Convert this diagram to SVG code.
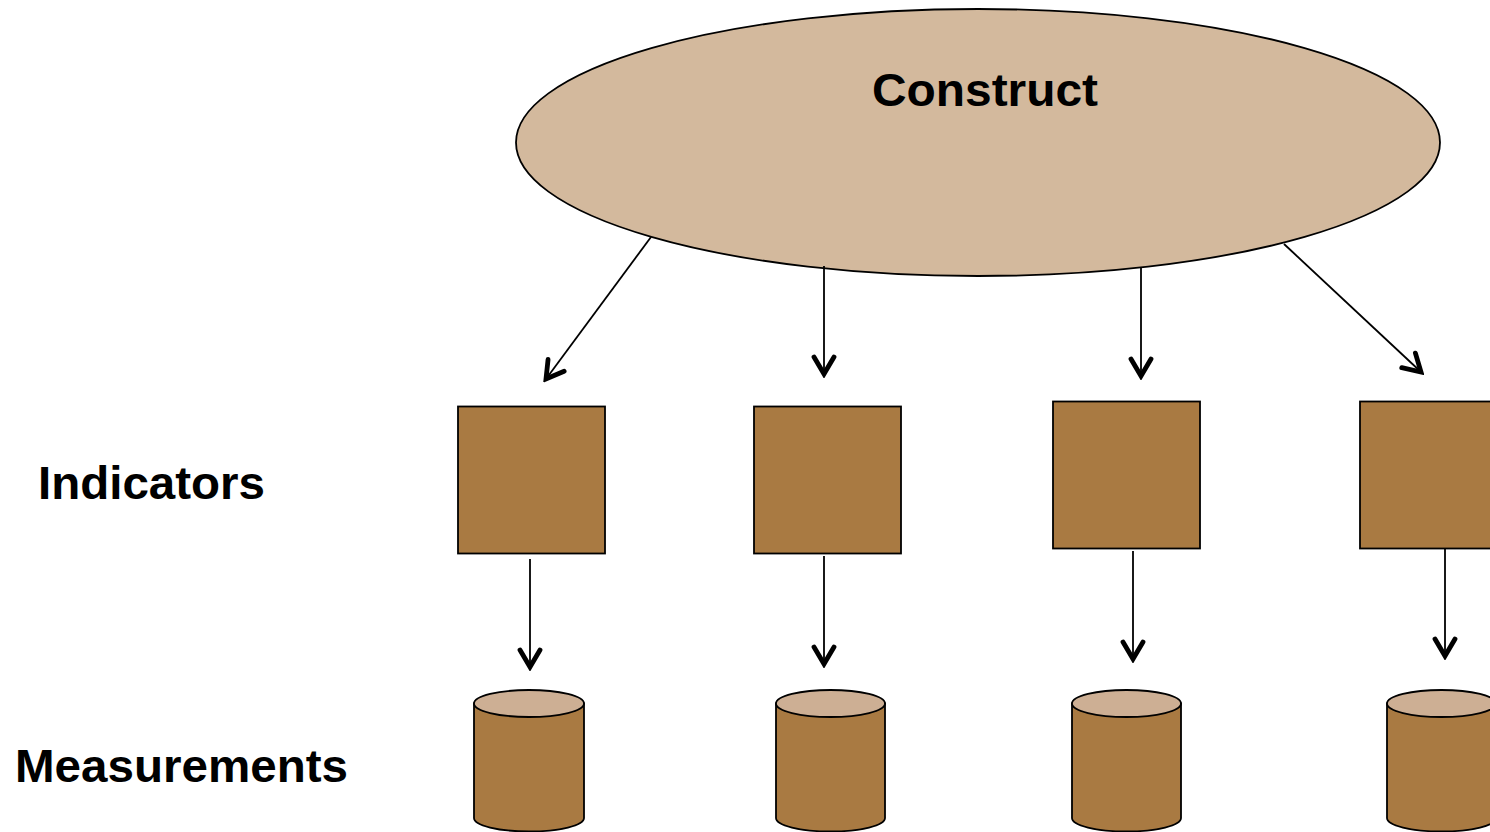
<svg xmlns="http://www.w3.org/2000/svg" width="1490" height="832" viewBox="0 0 1490 832">
<style>
.lbl{font-family:"Liberation Sans",Arial,sans-serif;font-weight:bold;font-size:47px;fill:#000}
.box{fill:#A97A42;stroke:#000;stroke-width:1.8}
.cyl{fill:#A97A42;stroke:#000;stroke-width:1.8}
.cyltop{fill:#CDAF94;stroke:#000;stroke-width:1.8}
.conn{stroke:#000;stroke-width:1.8;fill:none;marker-end:url(#v)}
</style>
<defs>
<marker id="v" markerUnits="userSpaceOnUse" viewBox="-22 -15 26 30" refX="0" refY="0" markerWidth="26" markerHeight="30" orient="auto">
<path d="M-17,-10 L0,0 L-17,10" fill="none" stroke="#000" stroke-width="4.8" stroke-linecap="round" stroke-linejoin="miter"/>
</marker>
</defs>
<rect width="1490" height="832" fill="#fff"/>
<g id="construct">
<ellipse cx="978" cy="142.5" rx="462" ry="133.5" fill="#D3B99D" stroke="#000" stroke-width="1.8"/>
<text class="lbl" x="985" y="106" text-anchor="middle" textLength="226" lengthAdjust="spacingAndGlyphs">Construct</text>
</g>
<g id="indicators-label"><text class="lbl" x="38" y="499" textLength="227" lengthAdjust="spacingAndGlyphs">Indicators</text></g>
<g id="measurements-label"><text class="lbl" x="15" y="782" textLength="333" lengthAdjust="spacingAndGlyphs">Measurements</text></g>
<g id="ind1"><rect class="box" x="458" y="406.5" width="147" height="147"/></g>
<g id="ind2"><rect class="box" x="754" y="406.5" width="147" height="147"/></g>
<g id="ind3"><rect class="box" x="1053" y="401.5" width="147" height="147"/></g>
<g id="ind4"><rect class="box" x="1360" y="401.5" width="147" height="147"/></g>
<g id="meas1">
<path class="cyl" d="M474,703.5 L474,818 A55,13.5 0 0 0 584,818 L584,703.5 Z"/>
<ellipse class="cyltop" cx="529" cy="703.5" rx="55" ry="13.5"/>
</g>
<g id="meas2">
<path class="cyl" d="M776,703.5 L776,818 A54.5,13.5 0 0 0 885,818 L885,703.5 Z"/>
<ellipse class="cyltop" cx="830.5" cy="703.5" rx="54.5" ry="13.5"/>
</g>
<g id="meas3">
<path class="cyl" d="M1072,703.5 L1072,818 A54.5,13.5 0 0 0 1181,818 L1181,703.5 Z"/>
<ellipse class="cyltop" cx="1126.5" cy="703.5" rx="54.5" ry="13.5"/>
</g>
<g id="meas4">
<path class="cyl" d="M1387,703.5 L1387,818 A54.5,13.5 0 0 0 1496,818 L1496,703.5 Z"/>
<ellipse class="cyltop" cx="1441.5" cy="703.5" rx="54.5" ry="13.5"/>
</g>
<g id="connectors">
<line class="conn" x1="651" y1="237" x2="546" y2="379"/>
<line class="conn" x1="824" y1="266" x2="824" y2="374"/>
<line class="conn" x1="1141" y1="268" x2="1141" y2="376"/>
<line class="conn" x1="1284" y1="244" x2="1421" y2="372"/>
<line class="conn" x1="530" y1="559" x2="530" y2="667"/>
<line class="conn" x1="824" y1="556" x2="824" y2="664"/>
<line class="conn" x1="1133" y1="551" x2="1133" y2="659"/>
<line class="conn" x1="1445" y1="548" x2="1445" y2="656"/>
</g>
</svg>
